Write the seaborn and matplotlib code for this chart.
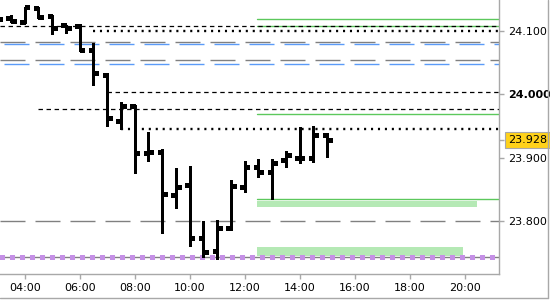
import numpy as np
import pandas as pd
import matplotlib
matplotlib.use("Agg")
import matplotlib.pyplot as plt
import matplotlib.transforms as mtransforms
import seaborn as sns

# ---------------- data ----------------
bar_hours = [3.0, 3.5, 4.0, 4.5, 5.0, 5.5, 6.0, 6.5, 7.0, 7.5, 8.0, 8.5, 9.0,
             9.5, 10.0, 10.5, 11.0, 11.5, 12.0, 12.5, 13.0, 13.5, 14.0, 14.5, 15.0]
opens  = [24.120, 24.121, 24.114, 24.137, 24.124, 24.110, 24.108, 24.071, 24.031,
          23.958, 23.982, 23.908, 23.909, 23.841, 23.856, 23.772, 23.752, 23.789,
          23.853, 23.885, 23.877, 23.896, 23.900, 23.899, 23.936]
highs  = [24.125, 24.126, 24.138, 24.138, 24.126, 24.110, 24.112, 24.082, 24.034,
          23.988, 23.983, 23.941, 23.913, 23.884, 23.887, 23.799, 23.801, 23.865,
          23.894, 23.898, 23.897, 23.911, 23.949, 23.950, 23.939]
lows   = [24.115, 24.115, 24.113, 24.121, 24.095, 24.097, 24.069, 24.015, 23.950,
          23.946, 23.875, 23.894, 23.780, 23.820, 23.760, 23.743, 23.740, 23.786,
          23.846, 23.870, 23.834, 23.885, 23.891, 23.893, 23.901]
closes = [24.119, 24.117, 24.138, 24.123, 24.105, 24.105, 24.070, 24.034, 23.962,
          23.981, 23.908, 23.909, 23.843, 23.853, 23.772, 23.750, 23.789, 23.855,
          23.885, 23.877, 23.892, 23.904, 23.899, 23.936, 23.928]

last_price = 23.928
x_tick_hours = [4, 6, 8, 10, 12, 14, 16, 18, 20]
x_tick_labels = ["04:00", "06:00", "08:00", "10:00", "12:00", "14:00", "16:00", "18:00", "20:00"]
y_tick_values = [23.8, 23.9, 24.0, 24.1]
y_tick_labels = ["23.800", "23.900", "24.000", "24.100"]

# black dashed levels (price, start hour)
black_dashed_levels = [24.108, 24.004, 23.977]
black_dashed_starts = [3.0, 7.0, 4.5]
# black dotted levels
black_dotted_levels = [24.101, 23.945]
black_dotted_starts = [6.5, 7.5]
# grey / blue long-dash levels
grey_dash_levels = [24.083, 24.054, 23.800]
blue_dash_levels = [24.080, 24.048]
# green solid lines from 12:30
green_line_levels = [24.119, 24.108, 23.969, 23.834]
green_start = 12.45
# green bands (low, high, end hour)
band_lows = [23.821, 23.744]
band_highs = [23.832, 23.758]
band_ends = [20.45, 19.93]
# grey solid + purple dotted level
support_level = 23.742

df = pd.DataFrame({"hour": bar_hours, "open": opens, "high": highs,
                   "low": lows, "close": closes})

# ---------------- style ----------------
sns.set_theme(style="white")
plt.rcParams["font.family"] = ["DejaVu Sans"]
plt.rcParams["lines.scale_dashes"] = False

fig = plt.figure(figsize=(5.5, 3.0), dpi=100)
ax = fig.add_axes([0.0, 26 / 300, 499 / 550, 274 / 300])

xmin, xmax = 3.102, 21.247
ymin, ymax = 23.7156, 24.1496
ax.set_xlim(xmin, xmax)
ax.set_ylim(ymin, ymax)

grey = "#808080"
blue = "#5B9BF8"
green = "#5CC85C"
band_green = "#B5E9B5"
purple = "#C590E6"

# grey & blue long dashes
for lv in grey_dash_levels:
    ax.axhline(lv, color=grey, lw=1.0, dashes=(18, 7.2), zorder=1)
for lv in blue_dash_levels:
    ax.plot([xmin + 0.15, xmax], [lv, lv], color=blue, lw=1.0, dashes=(18, 7.2), zorder=1)

# green bands
for lo, hi, end in zip(band_lows, band_highs, band_ends):
    ax.fill_between([green_start, end], lo, hi, color=band_green, lw=0, zorder=1)

# green lines
for lv in green_line_levels:
    ax.plot([green_start, xmax], [lv, lv], color=green, lw=1.0, zorder=1)

# black dashed
for lv, st in zip(black_dashed_levels, black_dashed_starts):
    ax.plot([max(st, xmin), xmax], [lv, lv], color="black", lw=0.9,
            dashes=(3.2, 2.6), zorder=2)

# black dotted
for lv, st in zip(black_dotted_levels, black_dotted_starts):
    ax.plot([st, xmax], [lv, lv], color="black", lw=1.7,
            dashes=(1.5, 3.5), zorder=2)

# support: grey solid + purple dotted squares
ax.axhline(support_level, color=grey, lw=1.0, zorder=2)
ax.axhline(support_level, color=purple, lw=3.8, dashes=(3.0, 4.2),
           antialiased=False, zorder=2)

# OHLC bars
tick_len = 0.17
ax.vlines(df["hour"], df["low"], df["high"], color="black", lw=2.0,
          antialiased=False, zorder=4)
ax.hlines(df["open"], df["hour"] - tick_len, df["hour"], color="black", lw=2.4,
          antialiased=False, zorder=4)
ax.hlines(df["close"], df["hour"], df["hour"] + tick_len, color="black", lw=2.4,
          antialiased=False, zorder=4)

# axes styling
for side in ["left", "top"]:
    ax.spines[side].set_visible(False)
for side in ["right", "bottom"]:
    ax.spines[side].set_color("#A8A8A8")
    ax.spines[side].set_linewidth(1.0)

ax.set_xticks(x_tick_hours)
ax.set_xticklabels(x_tick_labels)
ax.yaxis.tick_right()
ax.set_yticks(y_tick_values + [last_price])
ax.set_yticklabels(y_tick_labels + [""])
ax.tick_params(axis="x", bottom=True, length=3.5, width=1.0, color="#A8A8A8",
               labelsize=8, pad=3, labelcolor="black")
ax.tick_params(axis="y", right=True, left=False, length=3.5, width=1.0, color="#A8A8A8",
               labelsize=8, pad=3, labelcolor="black")
for lab in ax.get_yticklabels():
    if lab.get_text() == "24.000":
        lab.set_fontweight("bold")
ax.grid(False)

# last price label
trans = mtransforms.blended_transform_factory(ax.transAxes, ax.transData)
ax.text(1.0 + 9 / 499, last_price, f"{last_price:.3f}", transform=trans,
        ha="left", va="center", fontsize=8, color="black", zorder=10,
        bbox=dict(boxstyle="square,pad=0.25", fc="#FFD21A", ec="#A8A8A8", lw=0.8),
        clip_on=False)

# outer frame (bottom and right)
fig.add_artist(plt.Line2D([0, 548 / 550], [2 / 300, 2 / 300], color="#A8A8A8", lw=1.0,
                          transform=fig.transFigure))
fig.add_artist(plt.Line2D([548 / 550, 548 / 550], [2 / 300, 1], color="#A8A8A8", lw=1.0,
                          transform=fig.transFigure))

fig.savefig("out.png", dpi=100)
